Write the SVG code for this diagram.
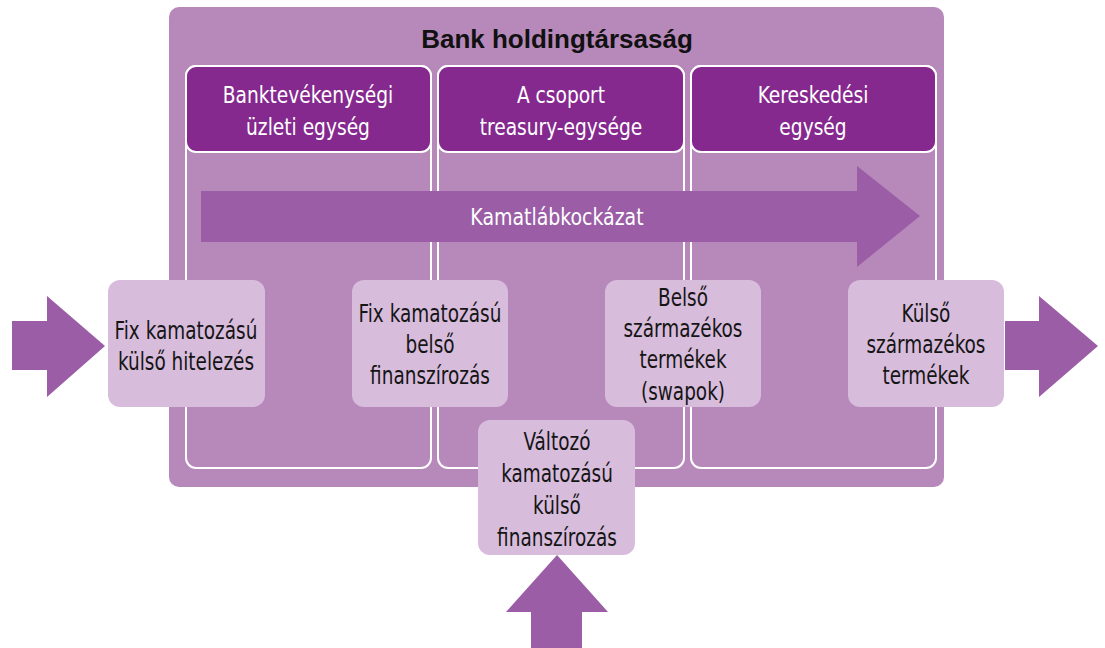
<svg xmlns="http://www.w3.org/2000/svg" width="1105" height="648" viewBox="0 0 1105 648">
<style>
text{font-family:"DejaVu Sans Condensed","Liberation Sans",sans-serif;text-anchor:middle}
.t{font-size:24px;fill:#151515}
.w{font-size:23px;fill:#fff}
.hdr{fill:#85298f;stroke:#fff;stroke-width:2}
.col{fill:none;stroke:#fff;stroke-width:2}
.box{fill:#d8bcdc}
.arr{fill:#9a5da6}
</style>
<rect id="holding" x="169" y="7" width="775" height="480" rx="10" fill="#b789bb"/>
<text x="557" y="48" style="font-family:'Liberation Sans',sans-serif;font-weight:bold;font-size:26px;fill:#111">Bank holdingtársaság</text>
<g id="col1"><rect class="col" x="186" y="66" width="245" height="402" rx="10"/><rect class="hdr" x="186" y="66" width="245" height="86" rx="10"/><g transform="translate(30.8 0) scale(0.9 1)"><text class="w" x="308" y="103">Banktevékenységi</text><text class="w" x="308" y="135">üzleti egység</text></g></g>
<g id="col2"><rect class="col" x="438" y="66" width="246" height="402" rx="10"/><rect class="hdr" x="438" y="66" width="246" height="86" rx="10"/><g transform="translate(56.1 0) scale(0.9 1)"><text class="w" x="561" y="103">A csoport</text><text class="w" x="561" y="135">treasury-egysége</text></g></g>
<g id="col3"><rect class="col" x="691" y="66" width="245" height="402" rx="10"/><rect class="hdr" x="691" y="66" width="245" height="86" rx="10"/><g transform="translate(81.3 0) scale(0.9 1)"><text class="w" x="813" y="103">Kereskedési</text><text class="w" x="813" y="135">egység</text></g></g>
<g id="connectors">
<polygon id="risk" class="arr" points="201,191 857,191 857,166 920,216 857,267 857,242 201,242"/>
<polygon class="arr" points="12,321 47,321 47,296 105,346 47,397 47,370 12,370"/>
<polygon class="arr" points="1005,321 1039,321 1039,296 1098,346 1039,397 1039,370 1005,370"/>
<polygon class="arr" points="531,648 531,612 506,612 557,555 608,612 582,612 582,648"/>
</g>
<g transform="translate(47.35 0) scale(0.915 1)"><text class="w" x="557" y="225">Kamatlábkockázat</text></g>
<g id="b1"><rect class="box" x="108" y="280" width="157" height="127" rx="12"/><g transform="translate(26.97 0) scale(0.855 1)"><text class="t" x="186" y="339">Fix kamatozású</text><text class="t" x="186" y="370">külső hitelezés</text></g></g>
<g id="b2"><rect class="box" x="352" y="280" width="156" height="127" rx="12"/><g transform="translate(62.35 0) scale(0.855 1)"><text class="t" x="430" y="322">Fix kamatozású</text><text class="t" x="430" y="353">belső</text><text class="t" x="430" y="384">finanszírozás</text></g></g>
<g id="b3"><rect class="box" x="605" y="280" width="156" height="127" rx="12"/><g transform="translate(99.04 0) scale(0.855 1)"><text class="t" x="683" y="306">Belső</text><text class="t" x="683" y="337">származékos</text><text class="t" x="683" y="368">termékek</text><text class="t" x="683" y="400">(swapok)</text></g></g>
<g id="b4"><rect class="box" x="848" y="280" width="156" height="127" rx="12"/><g transform="translate(134.27 0) scale(0.855 1)"><text class="t" x="926" y="322">Külső</text><text class="t" x="926" y="353">származékos</text><text class="t" x="926" y="384">termékek</text></g></g>
<g id="b5"><rect class="box" x="478" y="420" width="157" height="135" rx="12"/><g transform="translate(80.77 0) scale(0.855 1)"><text class="t" x="557" y="450">Változó</text><text class="t" x="557" y="482">kamatozású</text><text class="t" x="557" y="514">külső</text><text class="t" x="557" y="546">finanszírozás</text></g></g>
</svg>
